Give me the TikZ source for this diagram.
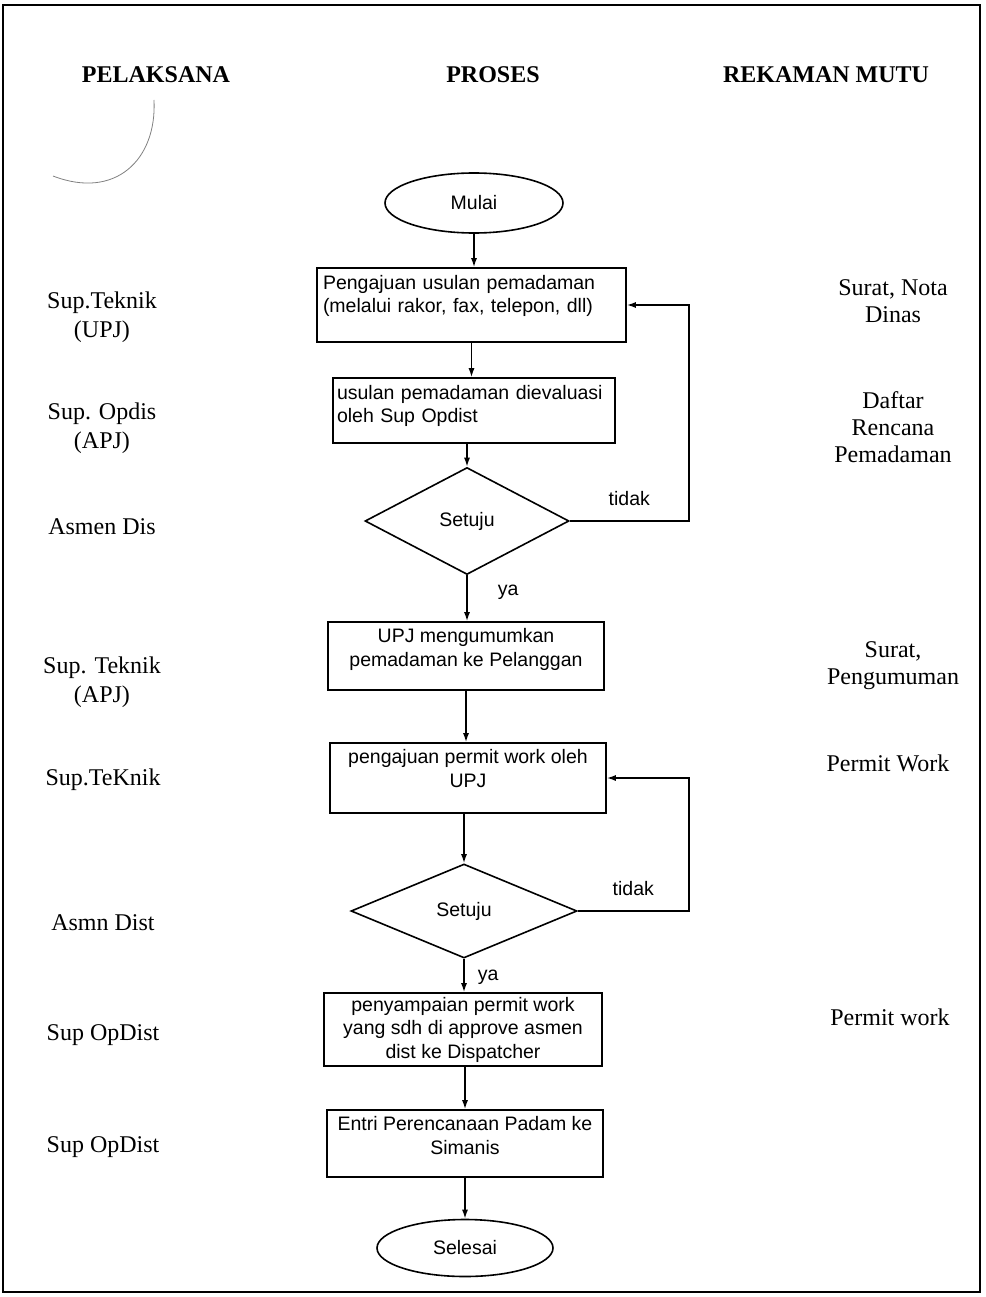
\documentclass[tikz,border=0pt]{standalone}
\usepackage{fontspec}
\setmainfont{Liberation Serif}
\newfontfamily\arialfont{Liberation Sans}
\usetikzlibrary{arrows.meta,positioning,shapes.geometric}
\tikzset{
  every node/.style={inner sep=0pt},
  colhead/.style={font=\fontsize{24}{28}\selectfont\bfseries},
  role/.style={font=\fontsize{24}{29}\selectfont, align=center},
  record/.style={font=\fontsize{24}{27}\selectfont, align=center},
  proc/.style={draw, line width=1.6pt, align=center,
    font=\arialfont\fontsize{19.5}{23.5}\selectfont},
  terminal/.style={proc, ellipse},
  decision/.style={proc, diamond},
  answer/.style={font=\arialfont\fontsize{19.5}{23.5}\selectfont},
  flow/.style={-{Latex[length=9pt,width=6pt]}, line width=1.5pt},
  frame/.style={line width=2.2pt}
}
\begin{document}
\begin{tikzpicture}[x=1pt,y=-1pt]
\useasboundingbox (0,0) rectangle (985,1297);
\draw[frame] (3,5) rectangle (980,1292);

% column headings
\node[colhead] (hpel) at (156,75) {PELAKSANA};
\node[colhead] (hpro) at (493,75) {PROSES};
\node[colhead] (hrek) at (826,75) {REKAMAN MUTU};
\draw[gray, line width=0.8pt] (154,100) .. controls (157,160) and (115,200) .. (53,176);

% process column
\node[terminal, minimum width=178, minimum height=60] (mulai) at (474,203) {Mulai};
\node[proc, align=left, text width=297, inner xsep=6pt, minimum height=74,
  text depth=46pt] (usulan) at (471.5,305)
  {Pengajuan usulan pemadaman\\(melalui rakor, fax, telepon, dll)};
\node[proc, align=left, text width=274, inner xsep=4pt, minimum height=65,
  text depth=37pt] (evaluasi) at (474,410.5)
  {usulan pemadaman dievaluasi\\oleh Sup Opdist};
\node[decision, minimum width=204, minimum height=107] (setuju1) at (467,521) {Setuju};
\node[proc, minimum width=276, minimum height=68, text depth=17pt] (umumkan) at (466,656)
  {UPJ mengumumkan\\pemadaman ke Pelanggan};
\node[proc, minimum width=276, minimum height=70, text depth=19pt] (permit) at (468,778)
  {pengajuan permit work oleh\\UPJ};
\node[decision, minimum width=226, minimum height=94] (setuju2) at (464,911) {Setuju};
\node[proc, minimum width=278, minimum height=73] (sampaikan) at (463,1029.5)
  {penyampaian permit work\\yang sdh di approve asmen\\dist ke Dispatcher};
\node[proc, minimum width=276, minimum height=67, text depth=16pt] (entri) at (465,1143.5)
  {Entri Perencanaan Padam ke\\Simanis};
\node[terminal, minimum width=176, minimum height=57] (selesai) at (465,1248) {Selesai};

\draw[flow] (mulai.south) -- (mulai.south |- usulan.north);
\draw[flow] (usulan.south) -- (usulan.south |- evaluasi.north);
\draw[flow] (setuju1.north |- evaluasi.south) -- (setuju1.north);
\draw[flow] (setuju1.south) -- node[answer, pos=.37, right=30pt]{ya} (setuju1.south |- umumkan.north);
\draw[flow] (setuju1.east) -- node[answer, above=15pt]{tidak} ++(119,0) |- (usulan.east);
\draw[flow] (umumkan.south) -- (umumkan.south |- permit.north);
\draw[flow] (setuju2.north |- permit.south) -- (setuju2.north);
\draw[flow] (setuju2.south) -- node[answer, pos=.54, right=13pt]{ya} (setuju2.south |- sampaikan.north);
\draw[flow] (setuju2.east) -- node[answer, above=15pt]{tidak} ++(111,0) |- (permit.east);
\draw[flow] (sampaikan.south -| entri.north) -- (entri.north);
\draw[flow] (entri.south) -- (entri.south |- selesai.north);

% pelaksana column
\node[role] (p1) at (102,317) {Sup.Teknik\\(UPJ)};
\node[role] (p2) at (102,428) {Sup. Opdis\\(APJ)};
\node[role] (p3) at (102,527) {Asmen Dis};
\node[role] (p4) at (102,682) {Sup. Teknik\\(APJ)};
\node[role] (p5) at (103,780) {Sup.TeKnik};
\node[role] (p6) at (103,923) {Asmn Dist};
\node[role] (p7) at (103,1035) {Sup OpDist};
\node[role] (p8) at (103,1147) {Sup OpDist};

% rekaman mutu column
\node[record] (r1) at (893,301) {Surat, Nota\\Dinas};
\node[record] (r2) at (893,427) {Daftar\\Rencana\\Pemadaman};
\node[record] (r3) at (893,666) {Surat,\\Pengumuman};
\node[record] (r4) at (888,763) {Permit Work};
\node[record] (r5) at (890,1017) {Permit work};
\end{tikzpicture}
\end{document}
